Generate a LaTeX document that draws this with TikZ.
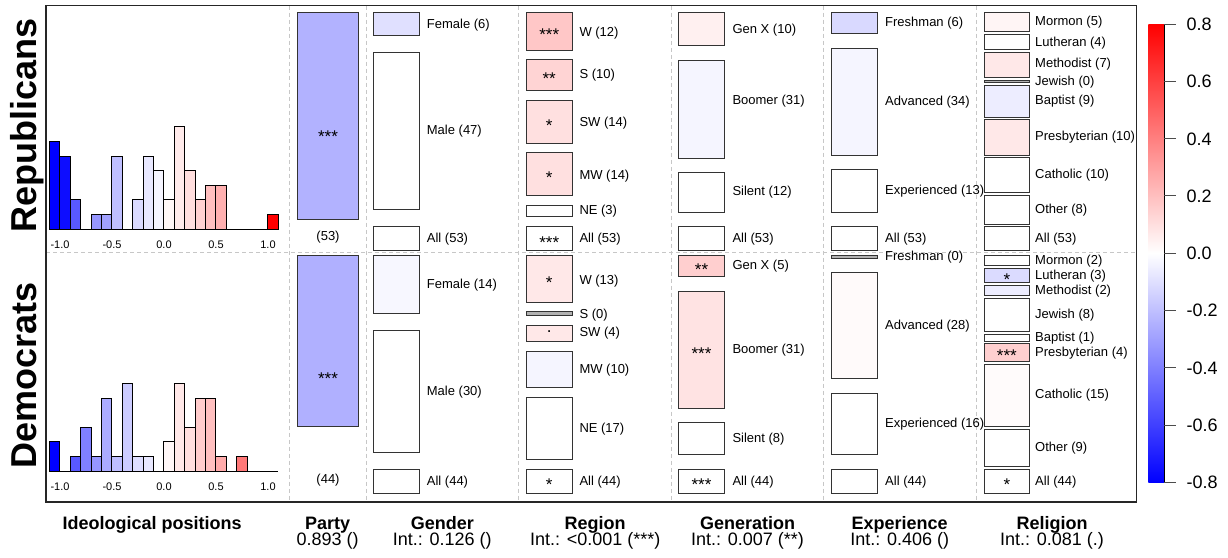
\documentclass[tikz,border=0pt]{standalone}
\usepackage{fontspec}
\setmainfont{Liberation Sans}
\newcommand\ent[8]{%
  \draw[box, fill=#6] (#1,#4) rectangle (#2,#5);
  \node[lab] at (#3,#8+4.7) {#7};}
\newcommand\gnd[5]{\ent{373.7}{419.7}{426.7}{#1}{#2}{#3}{#4}{#5}}
\newcommand\reg[5]{\ent{526}{572.3}{579.3}{#1}{#2}{#3}{#4}{#5}}
\newcommand\gnr[5]{\ent{678.7}{724.3}{732.3}{#1}{#2}{#3}{#4}{#5}}
\newcommand\exper[5]{\ent{831.3}{877.3}{885}{#1}{#2}{#3}{#4}{#5}}
\newcommand\relg[5]{\ent{984}{1029.7}{1035}{#1}{#2}{#3}{#4}{#5}}
\newcommand\sg[3]{\node[sig] at (#1,#2+9.5) {#3};}
\begin{document}
\begin{tikzpicture}[x=1pt,y=-1pt,
  box/.style={draw=black!80, line width=0.9pt},
  lab/.style={font=\fontsize{13}{15}\selectfont, anchor=base west, inner sep=0pt},
  sig/.style={font=\fontsize{17}{17}\selectfont, anchor=base, inner sep=0pt},
  tick/.style={font=\fontsize{11}{13}\selectfont, anchor=base, inner sep=0pt},
  cbl/.style={font=\fontsize{18}{20}\selectfont, anchor=base west, inner sep=0pt},
  divider/.style={draw=black!22, line width=0.8pt, dash pattern=on 4pt off 3pt},
  bar/.style={draw=black, line width=0.8pt},
  rowlab/.style={font=\fontsize{36}{36}\bfseries\selectfont, rotate=90, anchor=base, inner sep=0pt},
  ttl/.style={font=\fontsize{18}{20}\bfseries\selectfont, anchor=base, inner sep=0pt},
  sub/.style={font=\fontsize{18}{20}\selectfont, anchor=base, inner sep=0pt},
]
\useasboundingbox (0,0) rectangle (1228,557);

% dividers
\draw[divider] (46,252.7) -- (1136.7,252.7);
\foreach \xx in {289.3,366,518.7,671.7,823.3,976}
  \draw[divider] (\xx,5.7) -- (\xx,502);

% row labels
\node[rowlab] (rep) at (36,125.5) {Republicans};
\node[rowlab] (dem) at (36,375) {Democrats};

% histograms
\foreach \i/\c/\col in {0/6/blue, 1/5/{blue!95}, 2/2/{blue!65}, 4/1/{blue!41}, 5/1/{blue!37},
  6/5/{blue!25}, 8/2/{blue!14}, 9/5/{blue!9}, 10/4/{blue!4}, 11/2/{red!3}, 12/7/{red!8},
  13/4/{red!13}, 14/2/{red!18}, 15/3/{red!25}, 16/3/{red!31}, 21/1/red}
  \draw[bar, fill=\col] (49.3+10.4*\i,229) rectangle (59.7+10.4*\i,229-14.6*\c);
\draw[bar] (49.3,229) -- (278.1,229);
\foreach \i/\c/\col in {0/2/blue, 2/1/{blue!65}, 3/3/{blue!50}, 4/1/{blue!41}, 5/5/{blue!33},
  6/1/{blue!25}, 7/6/{blue!20}, 8/1/{blue!13}, 9/1/{blue!9}, 11/2/{red!3}, 12/6/{red!9},
  13/3/{red!13}, 14/5/{red!20}, 15/5/{red!25}, 16/1/{red!33}, 18/1/{red!53}}
  \draw[bar, fill=\col] (49.3+10.4*\i,471) rectangle (59.7+10.4*\i,471-14.6*\c);
\draw[bar] (49.3,471) -- (278.1,471);
\foreach \v/\t in {-1/-1.0,-0.5/-0.5,0/0.0,0.5/0.5,1/1.0}{
  \node[tick] at (164+104*\v,248) {\t};
  \node[tick] at (164+104*\v,490) {\t};}

% party
\draw[box, fill=blue!30] (297.3,12.7) rectangle (358.7,219.3);
\sg{328}{133}{***}
\node[lab, anchor=base] at (328,240.4) {(53)};
\draw[box, fill=blue!31] (297.3,255.7) rectangle (358.7,426.7);
\sg{328}{375}{***}
\node[lab, anchor=base] at (328,483) {(44)};

% gender
\gnd{12.7}{35}{blue!12}{Female (6)}{23.3}
\gnd{52.3}{209.7}{white}{Male (47)}{130}
\gnd{226.7}{250.7}{white}{All (53)}{237.3}
\gnd{255.3}{313.7}{blue!3}{Female (14)}{283.7}
\gnd{330.3}{452.3}{white}{Male (30)}{391}
\gnd{469}{493.7}{white}{All (44)}{480.7}

% region
\reg{12.7}{50}{red!22}{W (12)}{31.3}   \sg{549.2}{31.3}{***}
\reg{59.3}{90.7}{red!17}{S (10)}{74}    \sg{549.2}{75}{**}
\reg{100.7}{143.3}{red!12}{SW (14)}{121.7} \sg{549.2}{122}{*}
\reg{152.7}{195.7}{red!12}{MW (14)}{175}  \sg{549.2}{174.2}{*}
\reg{205}{216.7}{white}{NE (3)}{209.3}
\reg{226.7}{250.7}{white}{All (53)}{237.3} \sg{549.2}{238.7}{***}
\reg{255.3}{302.7}{red!9}{W (13)}{279.3}  \sg{549.2}{279}{*}
\reg{311.7}{315}{black!30}{S (0)}{313.3}
\reg{325}{341}{red!9}{SW (4)}{331.7}
\node[sig] at (549.2,332) {.};
\reg{351}{387.7}{blue!4}{MW (10)}{369}
\reg{397.7}{459.3}{white}{NE (17)}{427.7}
\reg{469}{493.7}{white}{All (44)}{480.7} \sg{549.2}{481.3}{*}

% generation
\gnr{12.7}{45}{red!6}{Gen X (10)}{28.3}
\gnr{60.7}{158.3}{blue!4}{Boomer (31)}{100}
\gnr{172.7}{212.3}{white}{Silent (12)}{190.7}
\gnr{226.7}{250.7}{white}{All (53)}{237.3}
\gnr{255.3}{276.7}{red!19}{Gen X (5)}{265}   \sg{701.5}{266}{**}
\gnr{291}{408.3}{red!11}{Boomer (31)}{349}   \sg{701.5}{350}{***}
\gnr{422.7}{454.3}{white}{Silent (8)}{437.7}
\gnr{469}{493.7}{white}{All (44)}{480.7}     \sg{701.5}{481}{***}

% experience
\exper{12.7}{33.7}{blue!15}{Freshman (6)}{22}
\exper{48.3}{155}{blue!4}{Advanced (34)}{100.7}
\exper{169.3}{212}{white}{Experienced (13)}{190}
\exper{226.7}{250.7}{white}{All (53)}{237.3}
\exper{255}{258}{black!30}{Freshman (0)}{255.7}
\exper{272.7}{378.3}{red!2}{Advanced (28)}{325}
\exper{393}{454.3}{white}{Experienced (16)}{422.7}
\exper{469}{493.3}{white}{All (44)}{480.7}

% religion
\relg{12.7}{31.7}{red!4}{Mormon (5)}{21}
\relg{34.3}{49.3}{white}{Lutheran (4)}{41.7}
\relg{52.3}{77.7}{red!9}{Methodist (7)}{62.7}
\relg{80.3}{82.3}{black!30}{Jewish (0)}{81}
\relg{85}{117.3}{blue!7}{Baptist (9)}{99.3}
\relg{119.3}{155}{red!9}{Presbyterian (10)}{136}
\relg{157.3}{192.7}{white}{Catholic (10)}{173.7}
\relg{195.3}{224}{white}{Other (8)}{209}
\relg{226.7}{250.7}{white}{All (53)}{237.3}
\relg{255.7}{265.7}{white}{Mormon (2)}{259.3}
\relg{268.7}{282.7}{blue!14}{Lutheran (3)}{274.3}  \sg{1006.9}{275.7}{*}
\relg{285.3}{295}{blue!7}{Methodist (2)}{289.3}
\relg{298}{331.7}{white}{Jewish (8)}{313.3}
\relg{334.7}{341}{white}{Baptist (1)}{336.7}
\relg{343.7}{361}{red!19}{Presbyterian (4)}{351.7} \sg{1006.9}{352.3}{***}
\relg{364.3}{426}{red!1.5}{Catholic (15)}{393.3}
\relg{429}{466.7}{white}{Other (9)}{446.7}
\relg{469.3}{493.3}{white}{All (44)}{480.7}     \sg{1006.9}{481}{*}

% frame
\draw[black!85, line width=1.1pt] (46,5.7) rectangle (1136.7,502);

% colour bar
\shade[bottom color=blue, top color=red, middle color=white] (1148.3,24) rectangle (1164.3,482.3);
\draw[line width=0.9pt] (1164.3,24) -- (1164.3,482.3);
\foreach \k/\t in {0/0.8,1/0.6,2/0.4,3/0.2,4/0.0,5/-0.2,6/-0.4,7/-0.6,8/-0.8}{
  \draw[black!70, line width=0.9pt] (1164.3,24+57.29*\k) -- (1176,24+57.29*\k);
  \node[cbl] at (1186.5,24+57.29*\k+6.5) {\t};}

% bottom labels
\node[ttl] (t0) at (152.2,529) {Ideological positions};
\node[ttl] (t1) at (327.7,529) {Party};
\node[sub] (s1) at (327.7,545) {0.893 ()};
\node[ttl] (t2) at (442.3,529) {Gender};
\node[sub] (s2) at (442.3,545) {Int.: 0.126 ()};
\node[ttl] (t3) at (595.2,529) {Region};
\node[sub] (s3) at (595.2,545) {Int.: <0.001 (***)};
\node[ttl] (t4) at (747.5,529) {Generation};
\node[sub] (s4) at (747.5,545) {Int.: 0.007 (**)};
\node[ttl] (t5) at (899.7,529) {Experience};
\node[sub] (s5) at (899.7,545) {Int.: 0.406 ()};
\node[ttl] (t6) at (1052,529) {Religion};
\node[sub] (s6) at (1052,545) {Int.: 0.081 (.)};
\end{tikzpicture}
\end{document}
